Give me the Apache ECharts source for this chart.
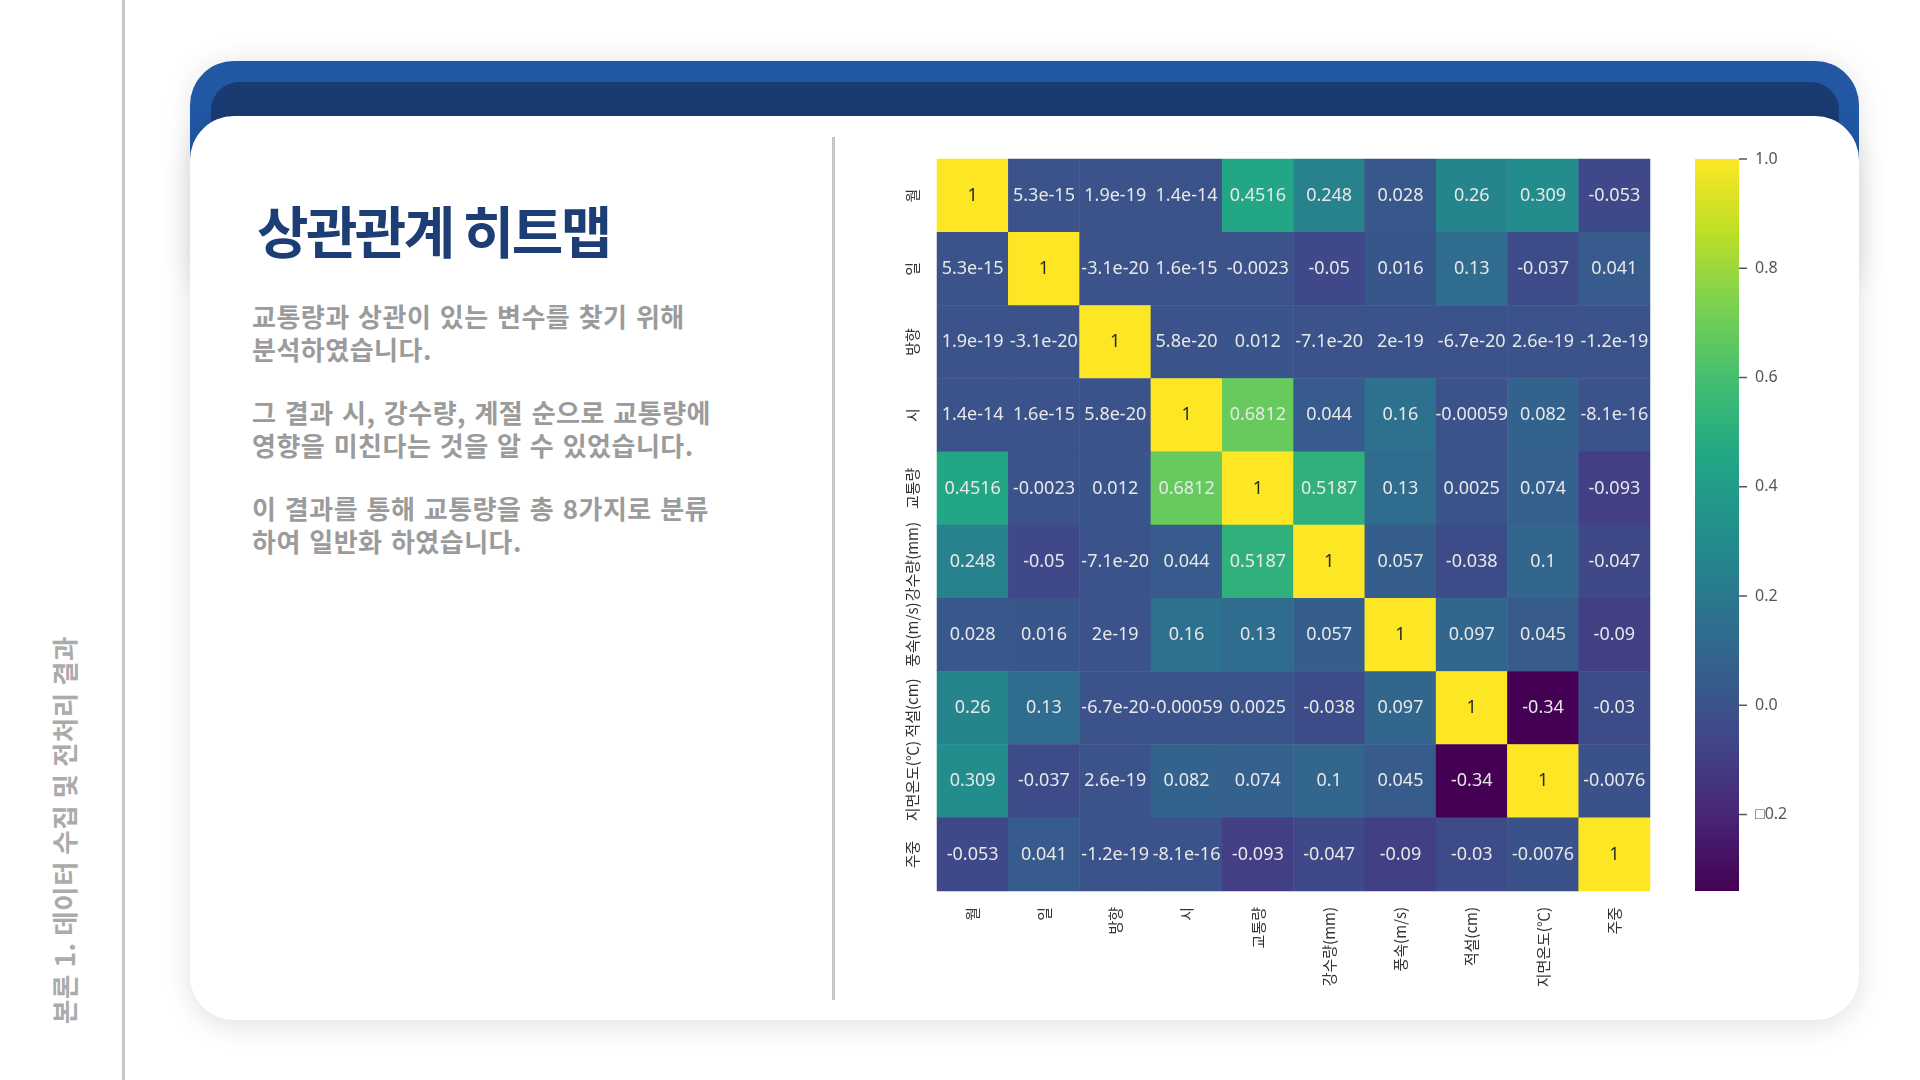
<!DOCTYPE html>
<html><head><meta charset="utf-8">
<script src="https://cdn.jsdelivr.net/npm/echarts@6/dist/echarts.min.js"></script>
<style>
html,body{margin:0;padding:0;width:1920px;height:1080px;background:#fff;overflow:hidden;font-family:"Noto Sans CJK KR","Noto Sans",sans-serif;}
.sideline{position:absolute;left:122px;top:0;width:3px;height:1080px;background:#c6c6c6;}
.sidetext{position:absolute;left:63px;top:830px;transform:translate(-50%,-50%) rotate(-90deg);white-space:nowrap;font-size:26.5px;font-weight:700;color:#ababab;letter-spacing:0.5px;}
.cardblue{position:absolute;left:190px;top:61px;width:1669px;height:220px;background:#2257a4;border-radius:44px 44px 0 0;box-shadow:0 0 28px rgba(0,0,0,0.10);}
.cardnavy{position:absolute;left:211px;top:82px;width:1628px;height:120px;background:#1a3b72;border-radius:28px 28px 0 0;}
.card{position:absolute;left:190px;top:116px;width:1669px;height:904px;background:#fff;border-radius:44px;box-shadow:0 6px 28px rgba(0,0,0,0.12);}
.divider{position:absolute;left:832px;top:137px;width:3px;height:863px;background:#c6c6c6;}
.title{position:absolute;left:257px;top:194px;font-size:56px;line-height:70px;font-weight:700;color:#1c3e75;letter-spacing:-2.6px;white-space:nowrap;}
.para{position:absolute;left:252px;top:299px;font-size:26px;line-height:33px;font-weight:700;color:#9b9b9b;white-space:nowrap;letter-spacing:0.5px;word-spacing:2px;}
.para p{margin:0 0 30px 0;}
#chart{position:absolute;left:0;top:0;width:1920px;height:1080px;}
</style></head>
<body>
<div class="sideline"></div>
<div class="sidetext">본론 1. 데이터 수집 및 전처리 결과</div>
<div class="cardblue"></div>
<div class="cardnavy"></div>
<div class="card"></div>
<div class="divider"></div>
<div class="title">상관관계 히트맵</div>
<div class="para">
<p>교통량과 상관이 있는 변수를 찾기 위해<br>분석하였습니다.</p>
<p>그 결과 시, 강수량, 계절 순으로 교통량에<br>영향을 미친다는 것을 알 수 있었습니다.</p>
<p>이 결과를 통해 교통량을 총 8가지로 분류<br>하여 일반화 하였습니다.</p>
</div>
<div id="chart"></div>
<script>
const categories = ['월','일','방향','시','교통량','강수량(mm)','풍속(m/s)','적설(cm)','지면온도(℃)','주중'];
const rowMonth      = [1, 5.3e-15, 1.9e-19, 1.4e-14, 0.4516, 0.248, 0.028, 0.26, 0.309, -0.053];
const rowDay        = [5.3e-15, 1, -3.1e-20, 1.6e-15, -0.0023, -0.05, 0.016, 0.13, -0.037, 0.041];
const rowDirection  = [1.9e-19, -3.1e-20, 1, 5.8e-20, 0.012, -7.1e-20, 2e-19, -6.7e-20, 2.6e-19, -1.2e-19];
const rowHour       = [1.4e-14, 1.6e-15, 5.8e-20, 1, 0.6812, 0.044, 0.16, -0.00059, 0.082, -8.1e-16];
const rowTraffic    = [0.4516, -0.0023, 0.012, 0.6812, 1, 0.5187, 0.13, 0.0025, 0.074, -0.093];
const rowRain       = [0.248, -0.05, -7.1e-20, 0.044, 0.5187, 1, 0.057, -0.038, 0.1, -0.047];
const rowWind       = [0.028, 0.016, 2e-19, 0.16, 0.13, 0.057, 1, 0.097, 0.045, -0.09];
const rowSnow       = [0.26, 0.13, -6.7e-20, -0.00059, 0.0025, -0.038, 0.097, 1, -0.34, -0.03];
const rowGroundTemp = [0.309, -0.037, 2.6e-19, 0.082, 0.074, 0.1, 0.045, -0.34, 1, -0.0076];
const rowWeekday    = [-0.053, 0.041, -1.2e-19, -8.1e-16, -0.093, -0.047, -0.09, -0.03, -0.0076, 1];
const colorbarTicks = [-0.2, 0.0, 0.2, 0.4, 0.6, 0.8, 1.0];
const colorbarTickLabels = ['□0.2', '0.0', '0.2', '0.4', '0.6', '0.8', '1.0'];

const rows = [rowMonth, rowDay, rowDirection, rowHour, rowTraffic, rowRain, rowWind, rowSnow, rowGroundTemp, rowWeekday];
const viridis = ['#440154','#482475','#414487','#355f8d','#2a788e','#21918c','#22a884','#44bf70','#7ad151','#bddf26','#fde725'];

let vMin = Infinity, vMax = -Infinity;
const heatData = [];
rows.forEach((row, yi) => row.forEach((v, xi) => {
  vMin = Math.min(vMin, v); vMax = Math.max(vMax, v);
  heatData.push({ value: [xi, yi, v], label: { color: v > 0.9 ? '#2a2a2a' : '#e8e8e8' } });
}));

const gradStops = viridis.map((c, i) => ({ offset: 1 - i / (viridis.length - 1), color: c }));

const chart = echarts.init(document.getElementById('chart'), null, { renderer: 'canvas' });
chart.setOption({
  backgroundColor: 'transparent',
  animation: false,
  grid: [
    { left: 937, top: 159, width: 713, height: 732, containLabel: false },
    { left: 1695, top: 159, width: 44, height: 732, containLabel: false }
  ],
  xAxis: [
    { type: 'category', gridIndex: 0, data: categories, axisLine: { show: false }, axisTick: { show: false }, splitLine: { show: false },
      axisLabel: { rotate: 90, margin: 16, fontSize: 15, color: '#333', fontFamily: 'Noto Sans CJK KR', interval: 0 } },
    { type: 'value', gridIndex: 1, min: 0, max: 1, show: false }
  ],
  yAxis: [
    { type: 'category', gridIndex: 0, data: categories, inverse: true, axisLine: { show: false }, axisTick: { show: false }, splitLine: { show: false },
      axisLabel: { rotate: 90, margin: 17, fontSize: 15, color: '#333', fontFamily: 'Noto Sans CJK KR', interval: 0 } },
    { type: 'value', gridIndex: 1, min: vMin, max: vMax, position: 'right', splitLine: { show: false },
      axisLine: { show: false }, axisTick: { show: false },
      axisLabel: { show: true, margin: 16, fontSize: 16, color: '#555', fontFamily: 'Noto Sans',
        customValues: colorbarTicks,
        formatter: (val) => { const i = colorbarTicks.findIndex(t => Math.abs(t - val) < 1e-9); return i >= 0 ? colorbarTickLabels[i] : ''; } } }
  ],
  visualMap: { type: 'continuous', min: vMin, max: vMax, show: false, seriesIndex: 0, inRange: { color: viridis } },
  series: [
    { type: 'heatmap', xAxisIndex: 0, yAxisIndex: 0, data: heatData,
      label: { show: true, fontSize: 18, fontFamily: 'Noto Sans', formatter: (p) => String(p.value[2]) },
      itemStyle: { borderWidth: 0 }, emphasis: { disabled: true } },
    { type: 'custom', xAxisIndex: 1, yAxisIndex: 1, data: [[0, vMin, 1, vMax]], silent: true,
      renderItem: (params, api) => {
        const p0 = api.coord([api.value(0), api.value(3)]);
        const p1 = api.coord([api.value(2), api.value(1)]);
        return { type: 'rect', shape: { x: p0[0], y: p0[1], width: p1[0] - p0[0], height: p1[1] - p0[1] },
          style: { fill: new echarts.graphic.LinearGradient(0, 0, 0, 1, gradStops) } };
      } },
    { type: 'custom', xAxisIndex: 1, yAxisIndex: 1, data: colorbarTicks.map(t => [1, t]), silent: true, clip: false,
      renderItem: (params, api) => {
        const p = api.coord([api.value(0), api.value(1)]);
        return { type: 'line', shape: { x1: p[0], y1: p[1], x2: p[0] + 8, y2: p[1] },
          style: { stroke: '#555', lineWidth: 1.5 } };
      } }
  ]
});
</script>
</body></html>
